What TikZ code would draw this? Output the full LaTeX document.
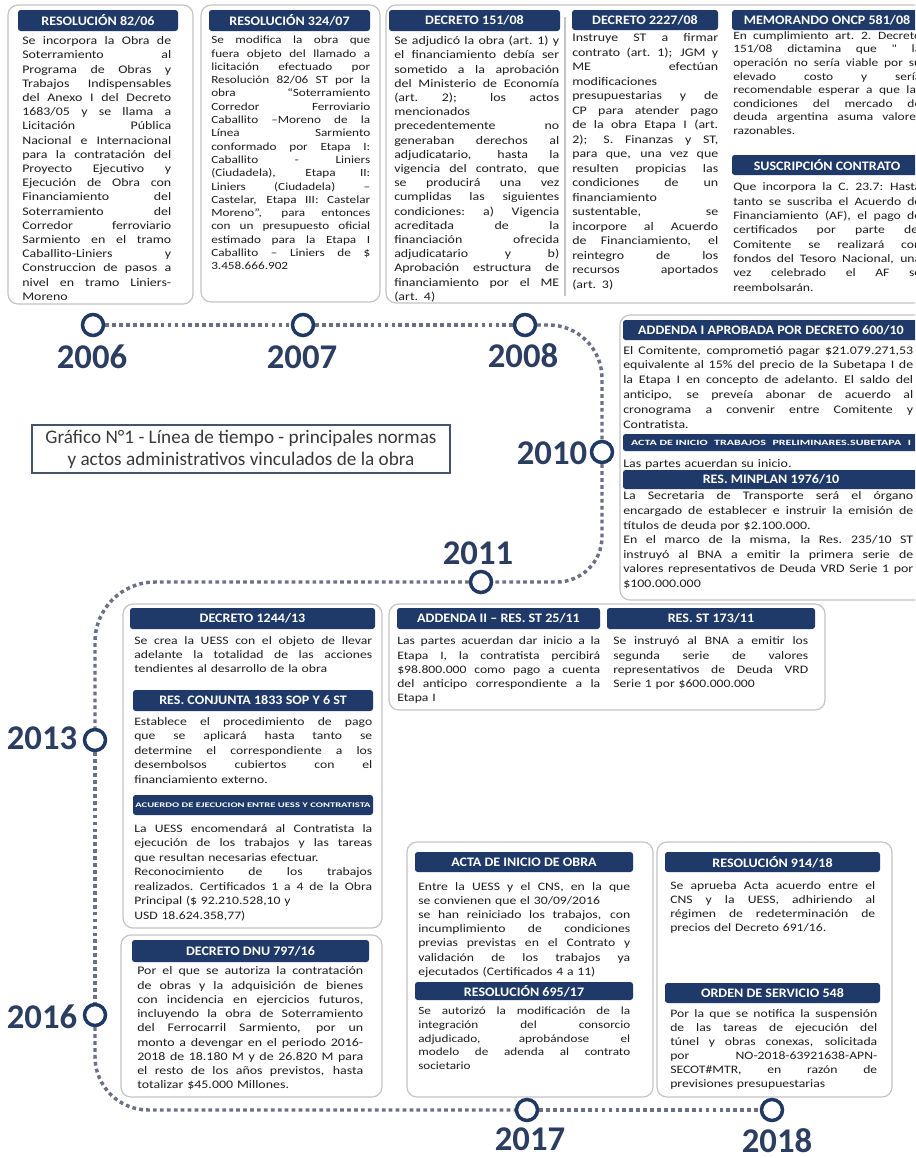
\documentclass[tikz,border=0pt]{standalone}
\usepackage{fontspec}
\setmainfont{Carlito}
\newfontfamily\bodyf[FakeStretch=1.2]{Carlito}
\newfontfamily\hdrf[FakeStretch=1.08]{Carlito}
\newfontfamily\widef[FakeStretch=1.5]{Carlito}
\newdimen\pxu \pxu=0.75pt
\newdimen\tw
\definecolor{navy}{HTML}{1F3A68}
\definecolor{ringc}{HTML}{203864}
\definecolor{dotc}{HTML}{6A7183}
\definecolor{framec}{HTML}{C4C4C4}
\definecolor{ink}{HTML}{1E1E1E}
\definecolor{yrc}{HTML}{2B3D61}
\definecolor{titlec}{HTML}{3A3A3A}
\definecolor{titleb}{HTML}{44546A}
\newcommand\tjl[1]{\hbox to\tw{\spaceskip=.26em plus 1fil\xspaceskip=.3em plus 1fil\relax\strut#1}}
\newcommand\tel[1]{\hbox to\tw{\strut#1\hfil}}
\newcommand\bsz[2]{\bodyf\fontsize{#1}{#2}\selectfont}
\tikzset{
  frame/.style={draw=framec, line width=0.9pt, rounded corners=7.5pt},
  hdr/.style={fill=navy, text=white, inner sep=0pt, rounded corners=2pt,
    font=\hdrf\bfseries\fontsize{9.75}{11}\selectfont},
  txt/.style={anchor=north west, inner sep=0pt, text=ink, text width=#1,
    execute at begin node={\tw=#1\relax}},
  ring/.style={circle, draw=ringc, fill=white, line width=2.6pt, minimum size=15.75pt, inner sep=0pt},
  tl/.style={draw=dotc, line width=2.6pt, dash pattern=on 2.8pt off 2.4pt},
  yr/.style={text=yrc, inner sep=0pt, font=\bfseries\fontsize{26}{26}\selectfont},
}
\begin{document}
\begin{tikzpicture}[x=0.75pt,y=-0.75pt]
\useasboundingbox (0,0) rectangle (915,1158);
\fill[white] (0,0) rectangle (915,1158);
\clip (0,0) rectangle (915,1158);

% ---------- frames ----------
\draw[frame] (8,5) rectangle (193,304);
\draw[frame] (201,5) rectangle (380,302);
\draw[frame] (386,5) rectangle (940,303);
\draw[draw=framec, line width=0.9pt] (565,17) -- (565,296);
\draw[frame] (620,315) rectangle (940,600);
\draw[frame] (123,604) rectangle (382,928);
\draw[frame] (389,604) rectangle (825,710);
\draw[frame] (121,935) rectangle (382,1097);
\draw[frame] (407,842) rectangle (653,1097);
\draw[frame] (657,842) rectangle (892,1097);

% ---------- headers ----------
\node[hdr, minimum width=160\pxu, minimum height=21\pxu] (hA) at (98,20.5) {RESOLUCIÓN 82/06};
\node[hdr, minimum width=161\pxu, minimum height=21\pxu] (hB) at (289.5,20.5) {RESOLUCIÓN 324/07};
\node[hdr, minimum width=171\pxu, minimum height=21\pxu] (hC1) at (474.5,20.5) {DECRETO 151/08};
\node[hdr, minimum width=146\pxu, minimum height=20\pxu] (hC2) at (645,20) {DECRETO 2227/08};
\node[hdr, minimum width=190\pxu, minimum height=20\pxu] (hC3) at (827,20) {MEMORANDO ONCP 581/08};
\node[hdr, minimum width=190\pxu, minimum height=20\pxu] (hC4) at (827,165) {SUSCRIPCIÓN CONTRATO};
\node[hdr, minimum width=296\pxu, minimum height=20\pxu] (hD1) at (771,330) {ADDENDA I APROBADA POR DECRETO 600/10};
\node[hdr, minimum width=296\pxu, minimum height=17\pxu, font=\widef\bfseries\fontsize{6}{7}\selectfont] (hD2) at (771,442.5)
  {\hbox to 280\pxu{ACTA DE INICIO\hfil TRABAJOS\hfil PRELIMINARES.SUBETAPA\hfil I}};
\node[hdr, minimum width=296\pxu, minimum height=19\pxu] (hD3) at (771,479.5) {RES. MINPLAN 1976/10};
\node[hdr, minimum width=245\pxu, minimum height=21\pxu] (hE1) at (252.5,618.5) {DECRETO 1244/13};
\node[hdr, minimum width=240\pxu, minimum height=21\pxu] (hE2) at (253,700.5) {RES. CONJUNTA 1833 SOP Y 6 ST};
\node[hdr, minimum width=240\pxu, minimum height=20\pxu, font=\widef\bfseries\fontsize{5.3}{7}\selectfont] (hE3) at (253,805) {ACUERDO DE EJECUCION ENTRE UESS Y CONTRATISTA};
\node[hdr, minimum width=203\pxu, minimum height=21\pxu] (hF1) at (498.5,618.5) {ADDENDA II – RES. ST 25/11};
\node[hdr, minimum width=208\pxu, minimum height=21\pxu] (hF2) at (711,618.5) {RES. ST 173/11};
\node[hdr, minimum width=237\pxu, minimum height=22\pxu] (hG) at (250.5,951) {DECRETO DNU 797/16};
\node[hdr, minimum width=218\pxu, minimum height=20\pxu] (hH1) at (524,862) {ACTA DE INICIO DE OBRA};
\node[hdr, minimum width=218\pxu, minimum height=18\pxu] (hH2) at (524,991) {RESOLUCIÓN 695/17};
\node[hdr, minimum width=215\pxu, minimum height=20\pxu] (hI1) at (772.5,862) {RESOLUCIÓN 914/18};
\node[hdr, minimum width=215\pxu, minimum height=20\pxu] (hI2) at (772.5,993) {ORDEN DE SERVICIO 548};

% ---------- texts ----------
\node[txt=149\pxu, font=\bsz{8.7}{10.65}] (tA) at (22,34.5) {%
\tjl{Se incorpora la Obra de}
\tjl{Soterramiento al}
\tjl{Programa de Obras y}
\tjl{Trabajos Indispensables}
\tjl{del Anexo I del Decreto}
\tjl{1683/05 y se llama a}
\tjl{Licitación Pública}
\tjl{Nacional e Internacional}
\tjl{para la contratación del}
\tjl{Proyecto Ejecutivo y}
\tjl{Ejecución de Obra con}
\tjl{Financiamiento del}
\tjl{Soterramiento del}
\tjl{Corredor ferroviario}
\tjl{Sarmiento en el tramo}
\tjl{Caballito-Liniers y}
\tjl{Construccion de pasos a}
\tjl{nivel en tramo Liniers-}
\tel{Moreno}};

\node[txt=159\pxu, font=\bsz{8.25}{9.975}] (tB) at (211,34.2) {%
\tjl{Se modifica la obra que}
\tjl{fuera objeto del llamado a}
\tjl{licitación efectuado por}
\tjl{Resolución 82/06 ST por la}
\tjl{obra “Soterramiento}
\tjl{Corredor Ferroviario}
\tjl{Caballito –Moreno de la}
\tjl{Línea Sarmiento}
\tjl{conformado por Etapa I:}
\tjl{Caballito - Liniers}
\tjl{(Ciudadela), Etapa II:}
\tjl{Liniers (Ciudadela) –}
\tjl{Castelar, Etapa III: Castelar}
\tjl{Moreno”, para entonces}
\tjl{con un presupuesto oficial}
\tjl{estimado para la Etapa I}
\tjl{Caballito – Liniers de \$}
\tel{3.458.666.902}};

\node[txt=165\pxu, font=\bsz{8.7}{10.65}] (tC1) at (394,34.5) {%
\tjl{Se adjudicó la obra (art. 1) y}
\tjl{el financiamiento debía ser}
\tjl{sometido a la aprobación}
\tjl{del Ministerio de Economía}
\tjl{(art. 2); los actos}
\tel{mencionados}
\tjl{precedentemente no}
\tjl{generaban derechos al}
\tjl{adjudicatario, hasta la}
\tjl{vigencia del contrato, que}
\tjl{se producirá una vez}
\tjl{cumplidas las siguientes}
\tjl{condiciones: a) Vigencia}
\tjl{acreditada de la}
\tjl{financiación ofrecida}
\tjl{adjudicatario y b)}
\tjl{Aprobación estructura de}
\tjl{financiamiento por el ME}
\tel{(art. 4)}};

\node[txt=146\pxu, font=\bsz{8.7}{10.875}] (tC2) at (572,31.1) {%
\tjl{Instruye ST a firmar}
\tjl{contrato (art. 1); JGM y}
\tjl{ME efectúan}
\tel{modificaciones}
\tjl{presupuestarias y de}
\tjl{CP para atender pago}
\tjl{de la obra Etapa I (art.}
\tjl{2); S. Finanzas y ST,}
\tjl{para que, una vez que}
\tjl{resulten propicias las}
\tjl{condiciones de un}
\tel{financiamiento}
\tjl{sustentable, se}
\tjl{incorpore al Acuerdo}
\tjl{de Financiamiento, el}
\tjl{reintegro de los}
\tjl{recursos aportados}
\tel{(art. 3)}};

\node[txt=188\pxu, font=\bsz{8.4}{10.2}] (tC3) at (733,29.6) {%
\tjl{En cumplimiento art. 2. Decreto}
\tjl{151/08 dictamina que " la}
\tjl{operación no sería viable por su}
\tjl{elevado costo y sería}
\tjl{recomendable esperar a que las}
\tjl{condiciones del mercado de}
\tjl{deuda argentina asuma valores}
\tel{razonables.}};

\node[txt=188\pxu, font=\bsz{8.55}{10.725}] (tC4) at (733,180.7) {%
\tjl{Que incorpora la C. 23.7: Hasta}
\tjl{tanto se suscriba el Acuerdo de}
\tjl{Financiamiento (AF), el pago de}
\tjl{certificados por parte del}
\tjl{Comitente se realizará con}
\tjl{fondos del Tesoro Nacional, una}
\tjl{vez celebrado el AF se}
\tel{reembolsarán.}};

\node[txt=290\pxu, font=\bsz{8.7}{11.1}] (tD1) at (623,343.5) {%
\tjl{El Comitente, comprometió pagar \$21.079.271,53}
\tjl{equivalente al 15\% del precio de la Subetapa I de}
\tjl{la Etapa I en concepto de adelanto. El saldo del}
\tjl{anticipo, se preveía abonar de acuerdo al}
\tjl{cronograma a convenir entre Comitente y}
\tel{Contratista.}};

\node[txt=290\pxu, font=\bsz{8.7}{11.1}] (tD2) at (623,456.5) {%
\tel{Las partes acuerdan su inicio.}};

\node[txt=290\pxu, font=\bsz{8.7}{10.95}] (tD3) at (623,489.5) {%
\tjl{La Secretaria de Transporte será el órgano}
\tjl{encargado de establecer e instruir la emisión de}
\tel{títulos de deuda por \$2.100.000.}
\tjl{En el marco de la misma, la Res. 235/10 ST}
\tjl{instruyó al BNA a emitir la primera serie de}
\tjl{valores representativos de Deuda VRD Serie 1 por}
\tel{\$100.000.000}};

\node[txt=238\pxu, font=\bsz{8.55}{10.5}] (tE1) at (134,634.9) {%
\tjl{Se crea la UESS con el objeto de llevar}
\tjl{adelante la totalidad de las acciones}
\tel{tendientes al desarrollo de la obra}};

\node[txt=238\pxu, font=\bsz{8.55}{10.875}] (tE2) at (134,714.6) {%
\tjl{Establece el procedimiento de pago}
\tjl{que se aplicará hasta tanto se}
\tjl{determine el correspondiente a los}
\tjl{desembolsos cubiertos con el}
\tel{financiamiento externo.}};

\node[txt=238\pxu, font=\bsz{8.55}{10.875}] (tE3) at (134,821.6) {%
\tjl{La UESS encomendará al Contratista la}
\tjl{ejecución de los trabajos y las tareas}
\tel{que resultan necesarias efectuar.}
\tjl{Reconocimiento de los trabajos}
\tjl{realizados. Certificados 1 a 4 de la Obra}
\tel{Principal (\$ 92.210.528,10 y}
\tel{USD 18.624.358,77)}};

\node[txt=203\pxu, font=\bsz{8.55}{10.69}] (tF1) at (397,634.7) {%
\tjl{Las partes acuerdan dar inicio a la}
\tjl{Etapa I, la contratista percibirá}
\tjl{\$98.800.000 como pago a cuenta}
\tjl{del anticipo correspondiente a la}
\tel{Etapa I}};

\node[txt=195\pxu, font=\bsz{8.55}{10.69}] (tF2) at (613,634.7) {%
\tjl{Se instruyó al BNA a emitir los}
\tjl{segunda serie de valores}
\tjl{representativos de Deuda VRD}
\tel{Serie 1 por \$600.000.000}};

\node[txt=226\pxu, font=\bsz{8.7}{10.69}] (tG) at (137,964.7) {%
\tjl{Por el que se autoriza la contratación}
\tjl{de obras y la adquisición de bienes}
\tjl{con incidencia en ejercicios futuros,}
\tjl{incluyendo la obra de Soterramiento}
\tjl{del Ferrocarril Sarmiento, por un}
\tjl{monto a devengar en el periodo 2016-}
\tjl{2018 de 18.180 M y de 26.820 M para}
\tjl{el resto de los años previstos, hasta}
\tel{totalizar \$45.000 Millones.}};

\node[txt=212\pxu, font=\bsz{8.55}{10.65}] (tH1) at (418,879.8) {%
\tjl{Entre la UESS y el CNS, en la que}
\tel{se convienen que el 30/09/2016}
\tjl{se han reiniciado los trabajos, con}
\tjl{incumplimiento de condiciones}
\tjl{previas previstas en el Contrato y}
\tjl{validación de los trabajos ya}
\tel{ejecutados (Certificados 4 a 11)}};

\node[txt=212\pxu, font=\bsz{8.25}{10.2}] (tH2) at (418,1005.1) {%
\tjl{Se autorizó la modificación de la}
\tjl{integración del consorcio}
\tjl{adjudicado, aprobándose el}
\tjl{modelo de adenda al contrato}
\tel{societario}};

\node[txt=205\pxu, font=\bsz{8.55}{10.5}] (tI1) at (670,879.9) {%
\tjl{Se aprueba Acta acuerdo entre el}
\tjl{CNS y la UESS, adhiriendo al}
\tjl{régimen de redeterminación de}
\tel{precios del Decreto 691/16.}};

\node[txt=207\pxu, font=\bsz{8.55}{10.5}] (tI2) at (670,1007.9) {%
\tjl{Por la que se notifica la suspensión}
\tjl{de las tareas de ejecución del}
\tjl{túnel y obras conexas, solicitada}
\tjl{por NO-2018-63921638-APN-}
\tjl{SECOT\#MTR, en razón de}
\tel{previsiones presupuestarias}};

% ---------- title ----------
\node[draw=titleb, line width=0.8pt, minimum width=418\pxu, minimum height=48\pxu, inner sep=0pt,
  align=center, text=titlec, font=\fontsize{14.4}{16.5}\selectfont] (title) at (241,449)
  {Gráfico N°1 - Línea de tiempo - principales normas\\y actos administrativos vinculados de la obra};

% ---------- timeline ----------
\node[ring] (c2006) at (93,325) {};
\node[ring] (c2007) at (303,325) {};
\node[ring] (c2008) at (525,325) {};
\node[ring] (c2010) at (602,452) {};
\node[ring] (c2011) at (481,582) {};
\node[ring] (c2013) at (95,740) {};
\node[ring] (c2016) at (95,1015) {};
\node[ring] (c2017) at (527,1110) {};
\node[ring] (c2018) at (772,1110) {};

\draw[tl] (c2006) -- (c2007);
\draw[tl] (c2007) -- (c2008);
\draw[tl, rounded corners=40pt] (c2008) -| (c2010);
\draw[tl, rounded corners=34pt] (c2010) |- (c2011);
\draw[tl, rounded corners=45pt] (c2011) -| (c2013);
\draw[tl] (c2013) -- (c2016);
\draw[tl, rounded corners=40pt] (c2016) |- (c2017);
\draw[tl] (c2017) -- (c2018);

\node[yr] (y2006) at (92,357) {2006};
\node[yr] (y2007) at (302,357) {2007};
\node[yr] (y2008) at (523,356) {2008};
\node[yr] (y2010) at (552,453) {2010};
\node[yr] (y2011) at (478,553) {2011};
\node[yr] (y2013) at (42,738) {2013};
\node[yr] (y2016) at (42,1017) {2016};
\node[yr] (y2017) at (530,1139) {2017};
\node[yr] (y2018) at (777,1141) {2018};
\end{tikzpicture}
\end{document}
